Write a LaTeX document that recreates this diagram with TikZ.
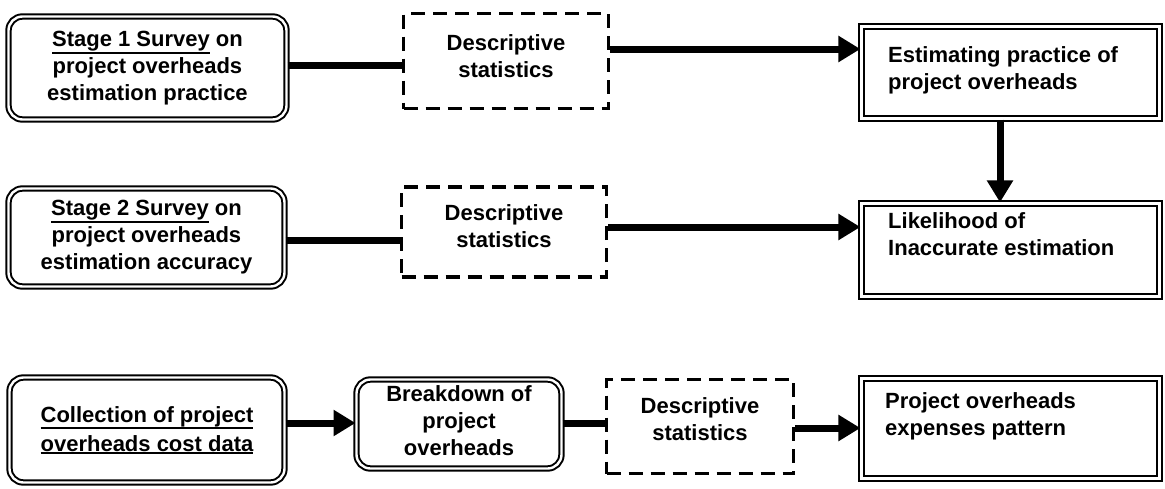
\documentclass[tikz,border=0pt]{standalone}
\usepackage{fontspec}
\setmainfont{Liberation Sans}
\usetikzlibrary{arrows.meta}
\newcommand{\myul}[1]{\vtop{\hbox{#1}\kern0.6pt\hrule height 2pt}}
\begin{document}
\begin{tikzpicture}[x=1pt,y=-1pt,
  txt/.style={font=\fontsize{22}{27}\selectfont\bfseries, align=center},
  rbox/.style={draw, double, line width=2pt, double distance=2.4pt, rounded corners=14pt, txt, inner sep=0pt},
  sbox/.style={draw, double, line width=2.2pt, double distance=2.4pt, inner sep=0pt},
  dbox/.style={draw, line width=3.2pt, dash pattern=on 14pt off 8pt, inner sep=0pt},
  ctxt/.style={txt, inner sep=0pt},
  conn/.style={line width=7pt},
  arr/.style={conn, -{Triangle[length=22pt,width=25pt]}},
  rtxt/.style={txt, align=left, anchor=west, inner sep=0pt}
]
\useasboundingbox (0,0) rectangle (1165,488);
% row 1
\node[rbox, minimum width=278pt, minimum height=103pt] (A1) at (147.5,68) {\myul{Stage 1 Survey} on\\project overheads\\estimation practice};
\node[dbox, minimum width=205pt, minimum height=95pt] (D1) at (506,61) {};
\node[ctxt] (D1t) at (506,56) {Descriptive\\statistics};
\node[sbox, minimum width=298pt, minimum height=92pt] (R1) at (1010.5,72.5) {};
\node[rtxt] (R1t) at (888,70) {Estimating practice of\\project overheads};
% row 2
\node[rbox, minimum width=276pt, minimum height=98pt] (A2) at (146.5,237.5) {\myul{Stage 2 Survey} on\\project overheads\\estimation accuracy};
\node[dbox, minimum width=205pt, minimum height=90pt] (D2) at (504,232) {};
\node[ctxt] (D2t) at (504,226) {Descriptive\\statistics};
\node[sbox, minimum width=298pt, minimum height=93pt] (R2) at (1010.5,250) {};
\node[rtxt] (R2t) at (888,234) {Likelihood of\\Inaccurate estimation};
% row 3
\node[rbox, minimum width=275pt, minimum height=105pt] (A3) at (147,430) {\myul{Collection of project}\\[2pt]\myul{overheads cost data}};
\node[rbox, minimum width=205pt, minimum height=89pt] (B3) at (459,424) {};
\node[ctxt] (B3t) at (459,421) {Breakdown of\\project\\overheads};
\node[dbox, minimum width=187pt, minimum height=94pt] (D3) at (700,426.5) {};
\node[ctxt] (D3t) at (700,419) {Descriptive\\statistics};
\node[sbox, minimum width=298pt, minimum height=100pt] (R3) at (1010.5,428.5) {};
\node[rtxt] (R3t) at (885,416) {Project overheads\\expenses pattern};
% connector levels
\coordinate (y1) at (0,65);
\coordinate (y2) at (0,49);
\coordinate (y3) at (0,240);
\coordinate (y4) at (0,227);
\coordinate (y5) at (0,423);
\coordinate (y6) at (0,428);
\coordinate (vx) at (1000,0);
\draw[conn] (A1.east |- y1) -- (D1.west |- y1);
\draw[arr] (D1.east |- y2) -- (R1.west |- y2);
\draw[conn] (A2.east |- y3) -- (D2.west |- y3);
\draw[arr] (D2.east |- y4) -- (R2.west |- y4);
\draw[arr] (R1.south -| vx) -- (R2.north -| vx);
\draw[arr] (A3.east |- y5) -- (B3.west |- y5);
\draw[conn] (B3.east |- y5) -- (D3.west |- y5);
\draw[arr] (D3.east |- y6) -- (R3.west |- y6);
\end{tikzpicture}
\end{document}
